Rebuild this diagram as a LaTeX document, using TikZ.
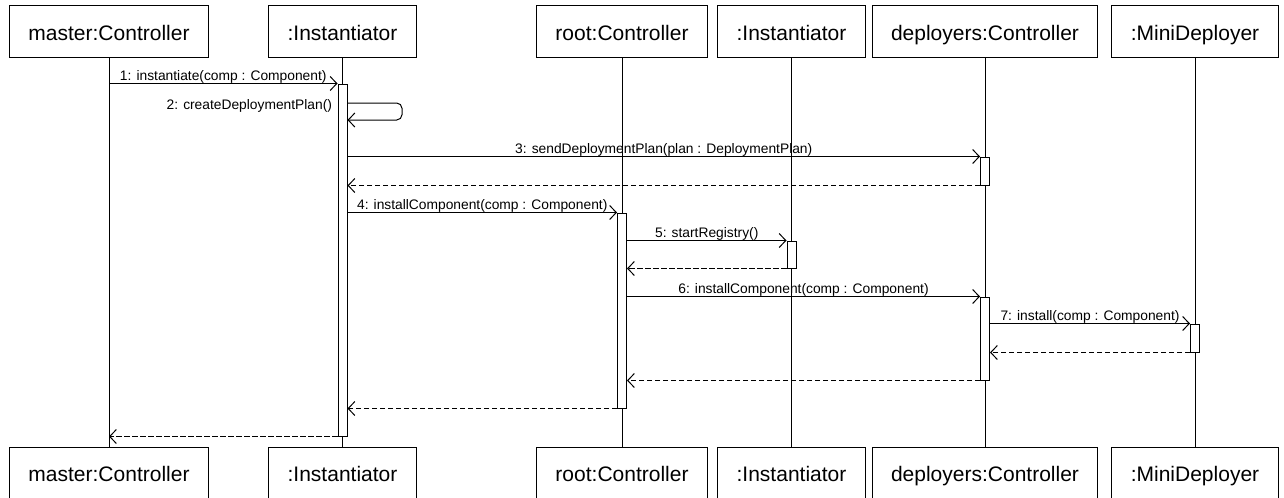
\documentclass[tikz,border=0pt]{standalone}
\usepackage{fontspec}
\setmainfont{Liberation Sans}
\usetikzlibrary{arrows.meta,fit}

\newcommand{\objfont}{\fontsize{15.75}{18}\selectfont}
\newcommand{\msgfont}{\fontsize{10.35}{12}\selectfont}

\begin{document}
\begin{tikzpicture}[x=0.75pt, y=-0.75pt, line width=0.75pt,
  obj/.style={draw, fill=white, font=\objfont, minimum height=39pt, inner xsep=14.25pt,
    text height=13pt, text depth=0.2pt},
  bar/.style={draw, fill=white, inner sep=0pt, minimum width=6.75pt},
  msg/.style={-{Straight Barb[length=5pt,width=10.5pt]}},
  ret/.style={msg, dash pattern=on 4pt off 2pt},
  lbl/.style={font=\msgfont, midway, anchor=base, yshift=2.4pt}]
 \useasboundingbox (0,0) rectangle (1284,497);

 % objects, top and bottom
 \node[obj] (mcT) at (109,31.5) {master:Controller};
 \node[obj] (inT) at (342.5,31.5) {:Instantiator};
 \node[obj] (rcT) at (622,31.5) {root:Controller};
 \node[obj] (in2T) at (791.5,31.5) {:Instantiator};
 \node[obj] (dcT) at (985,31.5) {deployers:Controller};
 \node[obj] (mdT) at (1195,31.5) {:MiniDeployer};

 \node[obj] (mcB) at (109,473) {master:Controller};
 \node[obj] (inB) at (342.5,473) {:Instantiator};
 \node[obj] (rcB) at (622,473) {root:Controller};
 \node[obj] (in2B) at (791.5,473) {:Instantiator};
 \node[obj] (dcB) at (985,473) {deployers:Controller};
 \node[obj] (mdB) at (1195,473) {:MiniDeployer};

 % lifelines
 \foreach \o in {mc,in,rc,in2,dc,md}
   \draw (\o T) -- (\o B);

 % activations
 \node[bar, fit={(342.5,84) (342.5,436)}] (aIn) {};
 \node[bar, fit={(985,157) (985,185)}] (aDc) {};
 \node[bar, fit={(622,213) (622,408)}] (aRc) {};
 \node[bar, fit={(791.5,241) (791.5,268)}] (aIn2) {};
 \node[bar, fit={(985,297) (985,380)}] (aDc2) {};
 \node[bar, fit={(1195,324) (1195,352)}] (aMd) {};

 % messages
 \draw[msg] (mcT |- aIn.north) -- node[lbl] {1: instantiate(comp : Component)} (aIn.north west);

 \draw[msg, rounded corners=4pt] (aIn.east |- 0,103) -- (402,103) -- (402,120) -- (aIn.east |- 0,120);
 \node[font=\msgfont, anchor=base east] (l2) at (337,109) {2: createDeploymentPlan()};

 \draw[msg] (aIn.east |- aDc.north) -- node[lbl] {3: sendDeploymentPlan(plan : DeploymentPlan)} (aDc.north west);
 \draw[ret] (aDc.south west) -- (aIn.east |- aDc.south);

 \draw[msg] (aIn.east |- aRc.north) -- node[lbl] {4: installComponent(comp : Component)} (aRc.north west);
 \draw[msg] (aRc.east |- aIn2.north) -- node[lbl] {5: startRegistry()} (aIn2.north west);
 \draw[ret] (aIn2.south west) -- (aRc.east |- aIn2.south);

 \draw[msg] (aRc.east |- aDc2.north) -- node[lbl] {6: installComponent(comp : Component)} (aDc2.north west);
 \draw[msg] (aDc2.east |- aMd.north) -- node[lbl] {7: install(comp : Component)} (aMd.north west);
 \draw[ret] (aMd.south west) -- (aDc2.east |- aMd.south);

 \draw[ret] (aDc2.south west) -- (aRc.east |- aDc2.south);
 \draw[ret] (aRc.south west) -- (aIn.east |- aRc.south);
 \draw[ret] (aIn.south west) -- (mcT |- aIn.south);
\end{tikzpicture}
\end{document}
